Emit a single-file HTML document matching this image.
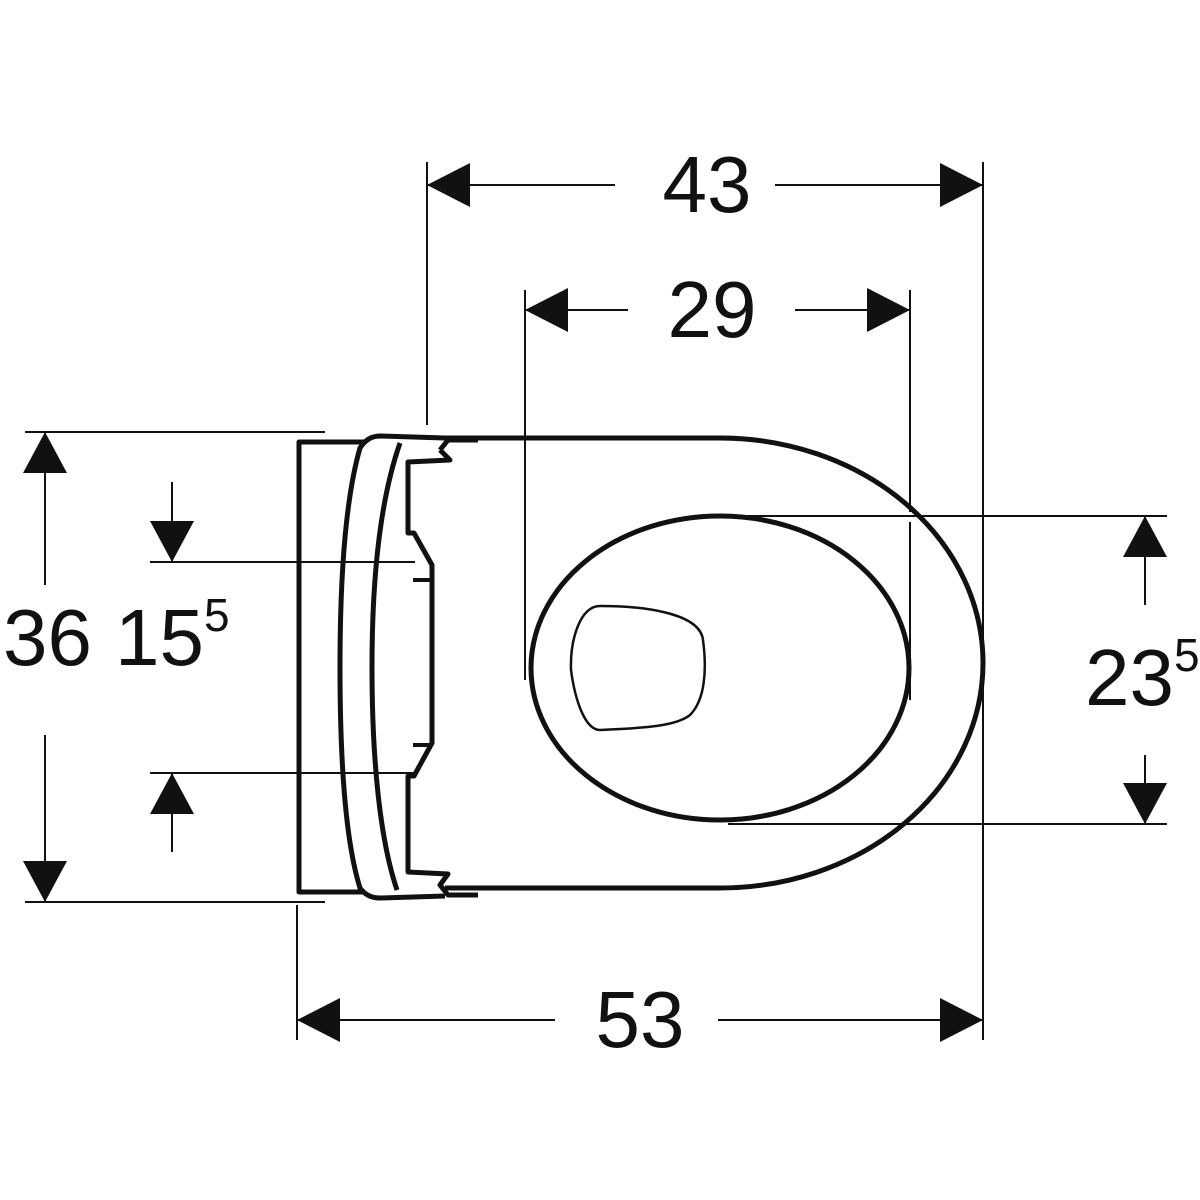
<!DOCTYPE html>
<html><head><meta charset="utf-8"><style>html,body{margin:0;padding:0;background:#fff}svg{display:block}</style></head>
<body>
<svg width="1200" height="1200" viewBox="0 0 1200 1200" xmlns="http://www.w3.org/2000/svg" font-family="Liberation Sans, Arial, sans-serif">
<g stroke="#111" fill="none" stroke-width="2">
<!-- extension lines -->
<line x1="427" y1="162" x2="427" y2="425"/>
<line x1="983" y1="162" x2="983" y2="1040"/>
<line x1="525" y1="290" x2="525" y2="680"/>
<line x1="910" y1="290" x2="910" y2="512"/>
<line x1="910" y1="522" x2="910" y2="700"/>
<line x1="297" y1="905" x2="297" y2="1040"/>
<line x1="25" y1="432" x2="325" y2="432"/>
<line x1="25" y1="902" x2="325" y2="902"/>
<line x1="150" y1="562" x2="415" y2="562"/>
<line x1="150" y1="773" x2="415" y2="773"/>
<line x1="728" y1="516" x2="1167" y2="516"/>
<line x1="728" y1="824" x2="1167" y2="824"/>
<!-- dim lines -->
<line x1="427" y1="185" x2="615" y2="185"/>
<line x1="775" y1="185" x2="983" y2="185"/>
<line x1="525" y1="310" x2="628" y2="310"/>
<line x1="795" y1="310" x2="910" y2="310"/>
<line x1="297" y1="1020" x2="555" y2="1020"/>
<line x1="718" y1="1020" x2="983" y2="1020"/>
<line x1="45" y1="432" x2="45" y2="585"/>
<line x1="45" y1="735" x2="45" y2="902"/>
<line x1="172" y1="482" x2="172" y2="562"/>
<line x1="172" y1="773" x2="172" y2="852"/>
<line x1="1145" y1="516" x2="1145" y2="605"/>
<line x1="1145" y1="755" x2="1145" y2="824"/>
</g>
<g fill="#111">
<polygon points="427,185 470,163 470,207"/>
<polygon points="983,185 940,163 940,207"/>
<polygon points="525,310 568,288 568,332"/>
<polygon points="910,310 867,288 867,332"/>
<polygon points="297,1020 340,998 340,1042"/>
<polygon points="983,1020 940,998 940,1042"/>
<polygon points="45,432 23,473 67,473"/>
<polygon points="45,902 23,861 67,861"/>
<polygon points="172,562 150,521 194,521"/>
<polygon points="172,773 150,814 194,814"/>
<polygon points="1145,516 1123,557 1167,557"/>
<polygon points="1145,824 1123,783 1167,783"/>
</g>
<g fill="#111" font-size="80">
<text x="707" y="212" text-anchor="middle">43</text>
<text x="712" y="337" text-anchor="middle">29</text>
<text x="640" y="1047" text-anchor="middle">53</text>
<text x="3" y="665">36</text>
<text x="115" y="665">15<tspan font-size="46" dy="-34">5</tspan></text>
<text x="1085" y="705">23<tspan font-size="46" dy="-34">5</tspan></text>
</g>
<!-- toilet -->
<g stroke="#111" fill="none" stroke-linejoin="round">
<path d="M445 438 L720 438 A263 225 0 0 1 720 888 L445 888" stroke-width="5"/>
<ellipse cx="720" cy="668" rx="189" ry="152" stroke-width="5"/>
<path d="M600 606 C640 606 700 612 703 640 C707 670 705 700 690 715 C675 727 640 728 600 730 C585 730 575 700 571 670 C570 640 580 606 600 606 Z" stroke-width="2.5"/>
<!-- back piece -->
<path d="M365 442 L299 442 L299 892 L365 892" stroke-width="5"/>
<path d="M445 438 L380 436 C372 436 365 440 360 448 C345 500 340 580 340 667 C340 760 345 840 360 888 C365 895 372 898 380 898 L445 896" stroke-width="5"/>
<path d="M400 443 C380 500 372 580 372 667 C372 760 380 840 397 890" stroke-width="5"/>
<path d="M440 450 L448 440 L478 440 M440 450 L450 460 L408 462 L408 533 L414 533 L432 565 L432 743 L414 776 L408 776 L408 872 L448 874 L440 885 L448 895 L478 895" stroke-width="5"/>
<path d="M413 580 L432 580 M413 745 L432 745" stroke-width="4"/>
</g>
</svg>
</body></html>
